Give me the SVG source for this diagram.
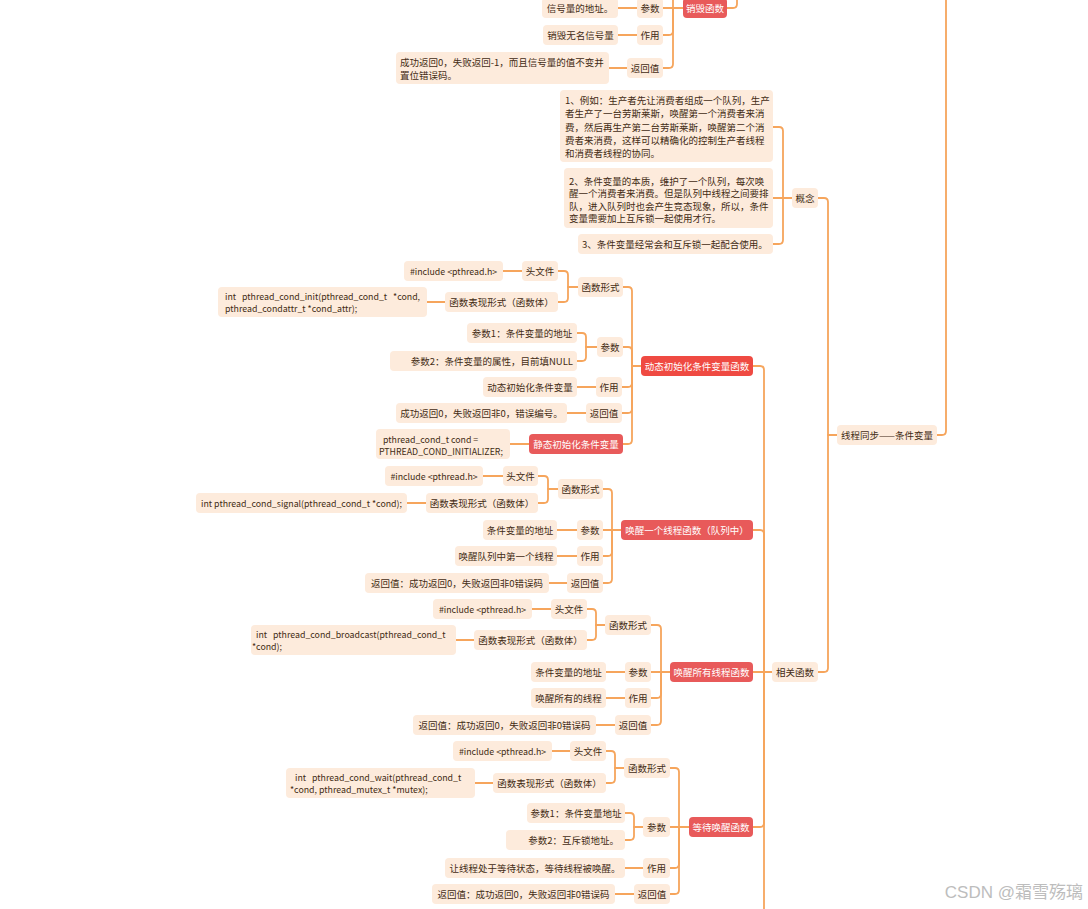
<svg xmlns="http://www.w3.org/2000/svg" width="1088" height="909" viewBox="0 0 1088 909">
<style>
.n{fill:#fdebdc}
.r{fill:#e85a5a}
.rd{fill:#ef4a42}
text{font-family:"Noto Sans CJK SC","Noto Sans",sans-serif;font-size:9.5px;fill:#432c14;dominant-baseline:central}
.m{font-size:8.8px}
.c{text-anchor:middle}
.e{text-anchor:end}
.s{text-anchor:start;white-space:pre}
.w{fill:#ffffff}
#links path{fill:none;stroke:#f6a55c;stroke-width:1.8;stroke-linecap:round}
.wm{font-family:"Liberation Sans","Noto Sans CJK SC",sans-serif;font-size:17px;fill:#bdbdbd;text-anchor:end}
</style>
<rect width="1088" height="909" fill="#ffffff"/>
<g id="links">
<path d="M618,8 H637"/>
<path d="M618,35 H637"/>
<path d="M609,68 H627"/>
<path d="M663,8 H683"/>
<path d="M663,35 H669 Q673,35 673,31 V8 H683"/>
<path d="M663,68 H669 Q673,68 673,64 V8 H683"/>
<path d="M673,8 V-5"/>
<path d="M727,8 H733 Q737,8 737,4 V-5"/>
<path d="M773,127 H779 Q783,127 783,131 V198 H792"/>
<path d="M773,198 H792"/>
<path d="M773,244 H779 Q783,244 783,240 V198 H792"/>
<path d="M818,198 H824 Q828,198 828,202 V435 H837"/>
<path d="M818,672 H824 Q828,672 828,668 V435 H837"/>
<path d="M937,435 H942 Q946,435 946,431 V-5"/>
<path d="M503,271 H522"/>
<path d="M427,302 H445"/>
<path d="M558,271 H564 Q568,271 568,275 V287 H578"/>
<path d="M558,302 H564 Q568,302 568,298 V287 H578"/>
<path d="M623,287 H628 Q632,287 632,291 V366 H641"/>
<path d="M577,333 H582 Q586,333 586,337 V347 H597"/>
<path d="M577,361 H582 Q586,361 586,357 V347 H597"/>
<path d="M623,347 H628 Q632,347 632,351 V366 H641"/>
<path d="M577,387 H596"/>
<path d="M622,387 H628 Q632,387 632,383 V366 H641"/>
<path d="M567,413 H586"/>
<path d="M622,413 H628 Q632,413 632,409 V366 H641"/>
<path d="M510,444 H529"/>
<path d="M623,444 H628 Q632,444 632,440 V366 H641"/>
<path d="M753,366 H760 Q764,366 764,370 V672 H772"/>
<path d="M483,476 H503"/>
<path d="M407,503 H426"/>
<path d="M538,476 H544 Q548,476 548,480 V489 H558"/>
<path d="M538,503 H544 Q548,503 548,499 V489 H558"/>
<path d="M603,489 H608 Q612,489 612,493 V530 H621"/>
<path d="M557,530 H577"/>
<path d="M603,530 H621"/>
<path d="M557,556 H577"/>
<path d="M603,556 H608 Q612,556 612,552 V530 H621"/>
<path d="M549,583 H567"/>
<path d="M603,583 H608 Q612,583 612,579 V530 H621"/>
<path d="M753,530 H760 Q764,530 764,534 V672 H772"/>
<path d="M532,609 H551"/>
<path d="M456,640 H474"/>
<path d="M587,609 H592 Q596,609 596,613 V625 H605"/>
<path d="M587,640 H592 Q596,640 596,636 V625 H605"/>
<path d="M651,625 H657 Q661,625 661,629 V672 H670"/>
<path d="M606,672 H625"/>
<path d="M651,672 H670"/>
<path d="M606,698 H625"/>
<path d="M651,698 H657 Q661,698 661,694 V672 H670"/>
<path d="M596,725 H615"/>
<path d="M651,725 H657 Q661,725 661,721 V672 H670"/>
<path d="M753,672 H772"/>
<path d="M552,751 H570"/>
<path d="M475,783 H493"/>
<path d="M606,751 H611 Q615,751 615,755 V768 H624"/>
<path d="M606,783 H611 Q615,783 615,779 V768 H624"/>
<path d="M670,768 H675 Q679,768 679,772 V827 H689"/>
<path d="M625,813 H630 Q634,813 634,817 V827 H643"/>
<path d="M625,840 H630 Q634,840 634,836 V827 H643"/>
<path d="M670,827 H689"/>
<path d="M625,868 H643"/>
<path d="M670,868 H675 Q679,868 679,864 V827 H689"/>
<path d="M615,894 H634"/>
<path d="M670,894 H675 Q679,894 679,890 V827 H689"/>
<path d="M753,827 H760 Q764,827 764,823 V672 H772"/>
<path d="M764,672 V915"/>
</g>

<g id="n-destroy"><rect class="r" x="683" y="-2" width="44" height="20" rx="4"/><text class="c w" x="705" y="8">销毁函数</text></g>
<g id="n-destroy-param"><rect class="n" x="637" y="-2" width="26" height="20" rx="4"/><text class="c" x="650" y="8">参数</text></g>
<g id="n-destroy-param-1"><rect class="n" x="542" y="-2" width="76" height="20" rx="4"/><text class="c" x="580" y="8">信号量的地址。</text></g>
<g id="n-destroy-use"><rect class="n" x="637" y="25" width="26" height="20" rx="4"/><text class="c" x="650" y="35">作用</text></g>
<g id="n-destroy-use-1"><rect class="n" x="543" y="25" width="75" height="20" rx="4"/><text class="c" x="580.5" y="35">销毁无名信号量</text></g>
<g id="n-destroy-ret"><rect class="n" x="627" y="58" width="36" height="20" rx="4"/><text class="c" x="645" y="68">返回值</text></g>
<g id="n-destroy-ret-1"><rect class="n" x="396" y="52" width="213" height="32" rx="4"/><text class="s" x="400" y="62">成功返回0，失败返回-1，而且信号量的值不变并</text><text class="s" x="400" y="75">置位错误码。</text></g>

<g id="n-root"><rect class="n" x="837" y="425" width="100" height="20" rx="4"/><text class="c" x="887" y="435">线程同步——条件变量</text></g>
<g id="n-concept"><rect class="n" x="792" y="188" width="26" height="20" rx="4"/><text class="c" x="805" y="198">概念</text></g>
<g id="n-concept-1"><rect class="n" x="560" y="90" width="213" height="72" rx="4"/>
<text class="s" x="565" y="100">1、例如：生产者先让消费者组成一个队列，生产</text>
<text class="s" x="565" y="113.3">者生产了一台劳斯莱斯，唤醒第一个消费者来消</text>
<text class="s" x="565" y="126.6">费，然后再生产第二台劳斯莱斯，唤醒第二个消</text>
<text class="s" x="565" y="140">费者来消费，这样可以精确化的控制生产者线程</text>
<text class="s" x="565" y="153.3">和消费者线程的协同。</text></g>
<g id="n-concept-2"><rect class="n" x="564" y="168" width="209" height="60" rx="4"/>
<text class="s" x="569" y="180.5">2、条件变量的本质，维护了一个队列，每次唤</text>
<text class="s" x="569" y="193">醒一个消费者来消费。但是队列中线程之间要排</text>
<text class="s" x="569" y="205.5">队，进入队列时也会产生竞态现象，所以，条件</text>
<text class="s" x="569" y="218">变量需要加上互斥锁一起使用才行。</text></g>
<g id="n-concept-3"><rect class="n" x="578" y="234" width="195" height="20" rx="4"/><text class="s" x="582" y="244">3、条件变量经常会和互斥锁一起配合使用。</text></g>
<g id="n-funcs"><rect class="n" x="772" y="662" width="46" height="20" rx="4"/><text class="c" x="795" y="672">相关函数</text></g>

<g id="n-init"><rect class="rd" x="641" y="356" width="112" height="20" rx="4"/><text class="c w" x="697" y="366">动态初始化条件变量函数</text></g>
<g id="n-init-form"><rect class="n" x="578" y="277" width="45" height="20" rx="4"/><text class="c" x="600.5" y="287">函数形式</text></g>
<g id="n-init-head"><rect class="n" x="522" y="261" width="36" height="20" rx="4"/><text class="c" x="540" y="271">头文件</text></g>
<g id="n-init-head-1"><rect class="n" x="404" y="261" width="99" height="20" rx="4"/><text class="c m" x="453.5" y="271">#include &lt;pthread.h&gt;</text></g>
<g id="n-init-body"><rect class="n" x="445" y="292" width="113" height="20" rx="4"/><text class="c" x="501.5" y="302">函数表现形式（函数体）</text></g>
<g id="n-init-body-1"><rect class="n" x="218" y="287" width="209" height="30" rx="4"/><text class="s m" x="225" y="296.5">int   pthread_cond_init(pthread_cond_t   *cond,</text><text class="s m" x="225" y="308.5">pthread_condattr_t *cond_attr);</text></g>
<g id="n-init-param"><rect class="n" x="597" y="337" width="26" height="20" rx="4"/><text class="c" x="610" y="347">参数</text></g>
<g id="n-init-param-1"><rect class="n" x="467" y="323" width="110" height="20" rx="4"/><text class="c" x="522" y="333">参数1：条件变量的地址</text></g>
<g id="n-init-param-2"><rect class="n" x="390" y="351" width="187" height="20" rx="4"/><text class="e" x="573" y="361">参数2：条件变量的属性，目前填NULL</text></g>
<g id="n-init-use"><rect class="n" x="596" y="377" width="26" height="20" rx="4"/><text class="c" x="609" y="387">作用</text></g>
<g id="n-init-use-1"><rect class="n" x="483" y="377" width="94" height="20" rx="4"/><text class="c" x="530" y="387">动态初始化条件变量</text></g>
<g id="n-init-ret"><rect class="n" x="586" y="403" width="36" height="20" rx="4"/><text class="c" x="604" y="413">返回值</text></g>
<g id="n-init-ret-1"><rect class="n" x="396" y="403" width="171" height="20" rx="4"/><text class="c" x="481.5" y="413">成功返回0，失败返回非0，错误编号。</text></g>
<g id="n-static"><rect class="r" x="529" y="434" width="94" height="20" rx="4"/><text class="c w" x="576" y="444">静态初始化条件变量</text></g>
<g id="n-static-1"><rect class="n" x="376" y="429" width="134" height="30" rx="4"/><text class="s m" x="383" y="439">pthread_cond_t cond =</text><text class="s m" x="379" y="451">PTHREAD_COND_INITIALIZER;</text></g>

<g id="n-signal"><rect class="r" x="621" y="520" width="132" height="20" rx="4"/><text class="c w" x="687" y="530">唤醒一个线程函数（队列中）</text></g>
<g id="n-signal-form"><rect class="n" x="558" y="479" width="45" height="20" rx="4"/><text class="c" x="580.5" y="489">函数形式</text></g>
<g id="n-signal-head"><rect class="n" x="503" y="466" width="35" height="20" rx="4"/><text class="c" x="520.5" y="476">头文件</text></g>
<g id="n-signal-head-1"><rect class="n" x="385" y="466" width="98" height="20" rx="4"/><text class="c m" x="434" y="476">#include &lt;pthread.h&gt;</text></g>
<g id="n-signal-body"><rect class="n" x="426" y="493" width="112" height="20" rx="4"/><text class="c" x="482" y="503">函数表现形式（函数体）</text></g>
<g id="n-signal-body-1"><rect class="n" x="196" y="493" width="211" height="20" rx="4"/><text class="c m" x="301.5" y="503">int pthread_cond_signal(pthread_cond_t *cond);</text></g>
<g id="n-signal-param"><rect class="n" x="577" y="520" width="26" height="20" rx="4"/><text class="c" x="590" y="530">参数</text></g>
<g id="n-signal-param-1"><rect class="n" x="483" y="520" width="74" height="20" rx="4"/><text class="c" x="520" y="530">条件变量的地址</text></g>
<g id="n-signal-use"><rect class="n" x="577" y="546" width="26" height="20" rx="4"/><text class="c" x="590" y="556">作用</text></g>
<g id="n-signal-use-1"><rect class="n" x="455" y="546" width="102" height="20" rx="4"/><text class="c" x="506" y="556">唤醒队列中第一个线程</text></g>
<g id="n-signal-ret"><rect class="n" x="567" y="573" width="36" height="20" rx="4"/><text class="c" x="585" y="583">返回值</text></g>
<g id="n-signal-ret-1"><rect class="n" x="365" y="573" width="184" height="20" rx="4"/><text class="c" x="457" y="583">返回值：成功返回0，失败返回非0错误码</text></g>

<g id="n-bcast"><rect class="r" x="670" y="662" width="83" height="20" rx="4"/><text class="c w" x="711.5" y="672">唤醒所有线程函数</text></g>
<g id="n-bcast-form"><rect class="n" x="605" y="615" width="46" height="20" rx="4"/><text class="c" x="628" y="625">函数形式</text></g>
<g id="n-bcast-head"><rect class="n" x="551" y="599" width="36" height="20" rx="4"/><text class="c" x="569" y="609">头文件</text></g>
<g id="n-bcast-head-1"><rect class="n" x="433" y="599" width="99" height="20" rx="4"/><text class="c m" x="482.5" y="609">#include &lt;pthread.h&gt;</text></g>
<g id="n-bcast-body"><rect class="n" x="474" y="630" width="113" height="20" rx="4"/><text class="c" x="530.5" y="640">函数表现形式（函数体）</text></g>
<g id="n-bcast-body-1"><rect class="n" x="251" y="625" width="205" height="30" rx="4"/><text class="s m" x="256" y="634.5">int   pthread_cond_broadcast(pthread_cond_t</text><text class="s m" x="252" y="646.5">*cond);</text></g>
<g id="n-bcast-param"><rect class="n" x="625" y="662" width="26" height="20" rx="4"/><text class="c" x="638" y="672">参数</text></g>
<g id="n-bcast-param-1"><rect class="n" x="531" y="662" width="75" height="20" rx="4"/><text class="c" x="568.5" y="672">条件变量的地址</text></g>
<g id="n-bcast-use"><rect class="n" x="625" y="688" width="26" height="20" rx="4"/><text class="c" x="638" y="698">作用</text></g>
<g id="n-bcast-use-1"><rect class="n" x="531" y="688" width="75" height="20" rx="4"/><text class="c" x="568.5" y="698">唤醒所有的线程</text></g>
<g id="n-bcast-ret"><rect class="n" x="615" y="715" width="36" height="20" rx="4"/><text class="c" x="633" y="725">返回值</text></g>
<g id="n-bcast-ret-1"><rect class="n" x="413" y="715" width="183" height="20" rx="4"/><text class="c" x="504.5" y="725">返回值：成功返回0，失败返回非0错误码</text></g>

<g id="n-wait"><rect class="r" x="689" y="817" width="64" height="20" rx="4"/><text class="c w" x="721" y="827">等待唤醒函数</text></g>
<g id="n-wait-form"><rect class="n" x="624" y="758" width="46" height="20" rx="4"/><text class="c" x="647" y="768">函数形式</text></g>
<g id="n-wait-head"><rect class="n" x="570" y="741" width="36" height="20" rx="4"/><text class="c" x="588" y="751">头文件</text></g>
<g id="n-wait-head-1"><rect class="n" x="453" y="741" width="99" height="20" rx="4"/><text class="c m" x="502.5" y="751">#include &lt;pthread.h&gt;</text></g>
<g id="n-wait-body"><rect class="n" x="493" y="773" width="113" height="20" rx="4"/><text class="c" x="549.5" y="783">函数表现形式（函数体）</text></g>
<g id="n-wait-body-1"><rect class="n" x="286" y="768" width="189" height="30" rx="4"/><text class="s m" x="295" y="777.5">int   pthread_cond_wait(pthread_cond_t</text><text class="s m" x="290" y="789.5">*cond, pthread_mutex_t *mutex);</text></g>
<g id="n-wait-param"><rect class="n" x="643" y="817" width="27" height="20" rx="4"/><text class="c" x="656.5" y="827">参数</text></g>
<g id="n-wait-param-1"><rect class="n" x="527" y="803" width="98" height="20" rx="4"/><text class="c" x="576" y="813">参数1：条件变量地址</text></g>
<g id="n-wait-param-2"><rect class="n" x="506" y="830" width="119" height="20" rx="4"/><text class="e" x="619" y="840">参数2：互斥锁地址。</text></g>
<g id="n-wait-use"><rect class="n" x="643" y="858" width="27" height="20" rx="4"/><text class="c" x="656.5" y="868">作用</text></g>
<g id="n-wait-use-1"><rect class="n" x="445" y="858" width="180" height="20" rx="4"/><text class="c" x="535" y="868">让线程处于等待状态，等待线程被唤醒。</text></g>
<g id="n-wait-ret"><rect class="n" x="634" y="884" width="36" height="20" rx="4"/><text class="c" x="652" y="894">返回值</text></g>
<g id="n-wait-ret-1"><rect class="n" x="432" y="884" width="183" height="20" rx="4"/><text class="c" x="523.5" y="894">返回值：成功返回0，失败返回非0错误码</text></g>

<text class="wm" x="1083" y="892">CSDN @霜雪殇璃</text>
</svg>
